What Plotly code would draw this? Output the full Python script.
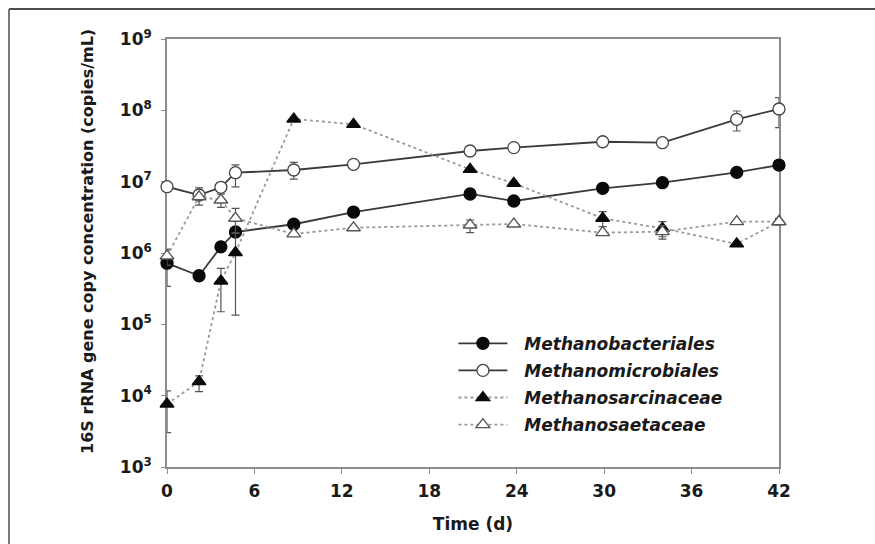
import plotly.graph_objects as go

# ---- data ----
time_d = [0, 2.2, 3.7, 4.7, 8.7, 12.8, 20.8, 23.8, 29.9, 34.0, 39.1, 42]

bacteriales = [7.2e5, 4.8e5, 1.22e6, 1.97e6, 2.53e6, 3.75e6, 6.72e6, 5.36e6, 8.07e6, 9.67e6, 1.35e7, 1.71e7]
bacteriales_err_plus = [3.8e5, 0, 0, 0, 0, 0, 0, 0, 0, 0, 0, 0]
bacteriales_err_minus = [3.8e5, 0, 0, 0, 0, 0, 0, 0, 0, 0, 0, 0]

microbiales = [8.5e6, 6.5e6, 8.34e6, 1.336e7, 1.457e7, 1.75e7, 2.69e7, 3.0e7, 3.63e7, 3.52e7, 7.49e7, 1.044e8]
microbiales_err_plus = [0, 1.7e6, 0, 3.8e6, 4.1e6, 0, 0, 0, 0, 0, 2.3e7, 4.6e7]
microbiales_err_minus = [0, 1.8e6, 0, 4.9e6, 3.7e6, 0, 0, 0, 0, 0, 2.36e7, 4.7e7]

sarcinaceae = [7.64e3, 1.57e4, 4.05e5, 1.01e6, 7.56e7, 6.37e7, 1.49e7, 9.49e6, 3.07e6, 2.22e6, 1.34e6, 2.75e6]
sarcinaceae_err_plus = [4.0e3, 3.2e3, 2.05e5, 8.75e5, 0, 0, 0, 0, 7.2e5, 5.3e5, 0, 0]
sarcinaceae_err_minus = [4.6e3, 4.3e3, 2.55e5, 8.75e5, 0, 0, 0, 0, 7.2e5, 5.3e5, 0, 0]

saetaceae = [9.08e5, 6.15e6, 5.53e6, 3.07e6, 1.85e6, 2.26e6, 2.47e6, 2.55e6, 1.93e6, 1.99e6, 2.75e6, 2.75e6]
saetaceae_err_plus = [2.3e5, 0, 1.16e6, 1.16e6, 0, 0, 4.3e5, 0, 0, 4.3e5, 0, 3.0e5]
saetaceae_err_minus = [2.3e5, 0, 1.16e6, 1.16e6, 0, 0, 5.4e5, 0, 0, 4.3e5, 0, 3.0e5]

series_names = ["Methanobacteriales", "Methanomicrobiales", "Methanosarcinaceae", "Methanosaetaceae"]

x_tick_vals = [0, 6, 12, 18, 24, 30, 36, 42]
y_tick_vals = [1e3, 1e4, 1e5, 1e6, 1e7, 1e8, 1e9]
y_tick_text = ["10<sup>3</sup>", "10<sup>4</sup>", "10<sup>5</sup>", "10<sup>6</sup>",
               "10<sup>7</sup>", "10<sup>8</sup>", "10<sup>9</sup>"]

FONT = "DejaVu Sans"
AXIS_GREY = "#8c8c8c"

fig = go.Figure()


def add_series(name, y, ep, em, symbol, fill, line_color, dash, edge):
    fig.add_trace(go.Scatter(
        x=time_d, y=y, name="\u2002\u2009" + name, mode="lines+markers",
        legendgroup=name,
        cliponaxis=False,
        line=dict(color=line_color, width=1.8, dash=dash),
        marker=dict(symbol=symbol, size=12, color=fill,
                    line=dict(color=edge, width=1.3)),
        error_y=dict(type="data", symmetric=False, array=ep, arrayminus=em,
                     color="#555555", thickness=1.2, width=4),
    ))


add_series(series_names[0], bacteriales, bacteriales_err_plus, bacteriales_err_minus,
           "circle", "#0a0a0a", "#3a3a3a", "solid", "#0a0a0a")
add_series(series_names[1], microbiales, microbiales_err_plus, microbiales_err_minus,
           "circle", "white", "#3a3a3a", "solid", "#444444")
add_series(series_names[2], sarcinaceae, sarcinaceae_err_plus, sarcinaceae_err_minus,
           "triangle-up", "#0a0a0a", "#9a9a9a", "dot", "#0a0a0a")
add_series(series_names[3], saetaceae, saetaceae_err_plus, saetaceae_err_minus,
           "triangle-up", "white", "#9a9a9a", "dot", "#555555")

fig.update_layout(
    width=875, height=544,
    margin=dict(l=167, r=96, t=39, b=77),
    paper_bgcolor="white", plot_bgcolor="white",
    font=dict(family=FONT, size=17, color="#1a1a1a"),
    showlegend=True,
    legend=dict(
        x=0.468, y=0.330, xanchor="left", yanchor="top",
        bgcolor="rgba(0,0,0,0)", itemwidth=49,
        font=dict(family=FONT, size=17, color="#1a1a1a", style="italic", weight="bold"),
        tracegroupgap=2,
    ),
    xaxis=dict(
        range=[0, 42], tickvals=x_tick_vals, ticktext=[str(v) for v in x_tick_vals],
        showline=True, linecolor=AXIS_GREY, linewidth=1.6, mirror=True,
        ticks="outside", ticklen=5, tickcolor=AXIS_GREY, tickwidth=1.2,
        showgrid=False, zeroline=False, layer="below traces",
        tickfont=dict(family=FONT, size=17, color="#1a1a1a", weight="bold"),
        ticklabelstandoff=3,
        title=dict(text="Time (d)", standoff=18,
                   font=dict(family=FONT, size=17, color="#1a1a1a", weight="bold")),
    ),
    yaxis=dict(
        type="log", range=[3, 9], tickvals=y_tick_vals, ticktext=y_tick_text,
        showline=True, linecolor=AXIS_GREY, linewidth=1.6, mirror=True,
        ticks="outside", ticklen=4, tickcolor=AXIS_GREY, tickwidth=1.2,
        showgrid=False, zeroline=False, layer="below traces",
        tickfont=dict(family=FONT, size=17, color="#1a1a1a", weight="bold"),
        ticklabelstandoff=6,
    ),
    annotations=[dict(
        text="16S rRNA gene copy concentration (copies/mL)",
        xref="paper", yref="paper", x=-0.129, y=0.526,
        textangle=-90, showarrow=False, xanchor="center", yanchor="middle",
        font=dict(family=FONT, size=16, color="#1a1a1a", weight="bold"),
    )],
    shapes=[
        dict(type="line", xref="paper", yref="paper", x0=-0.2582, x1=1.16, y0=1.0701, y1=1.0701,
             line=dict(color="#111111", width=1.5)),
        dict(type="line", xref="paper", yref="paper", x0=-0.2582, x1=-0.2582, y0=1.0701, y1=-0.19,
             line=dict(color="#777777", width=2)),
    ],
)

fig.write_html(
    "out.html",
    config={"displayModeBar": False},
    post_script="document.body.style.margin='0px';document.body.style.overflow='hidden';",
)
